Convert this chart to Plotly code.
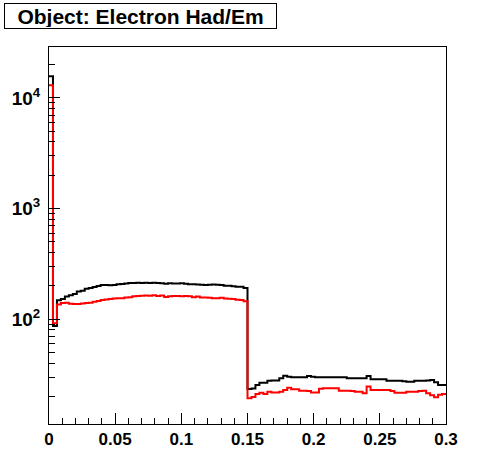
import numpy as np
import plotly.graph_objects as go

# ---- data (100 bins of width 0.003 from 0 to 0.3) ----
x_min = 0.0
x_max = 0.3
n_bins = 100

black_counts = [
    15700, 87, 148, 152, 160, 165, 169, 178, 181, 188,
    191, 195, 200, 204, 204, 203, 204, 207, 208, 210,
    212, 212, 213, 212, 213, 212, 213, 212, 211, 209,
    211, 210, 210, 211, 209, 207, 207, 206, 205, 204,
    205, 206, 205, 204, 201, 201, 199, 197, 197, 191,
    23.4, 23.6, 25.4, 26.7, 26.7, 27.8, 28.0, 28.0, 29.2, 30.9,
    30.2, 29.9, 29.9, 29.9, 29.9, 30.7, 30.2, 29.9, 29.9, 29.9,
    29.9, 29.9, 29.9, 29.9, 29.9, 29.2, 29.2, 29.2, 29.2, 29.2,
    30.7, 28.7, 28.7, 28.7, 28.7, 27.8, 27.8, 27.8, 27.8, 27.5,
    27.2, 27.2, 27.8, 27.8, 27.8, 28.0, 28.2, 27.0, 25.4, 25.4,
]

red_counts = [
    13000, 92, 136, 140, 141, 138, 137, 137, 139, 140,
    141, 144, 146, 149, 151, 152, 154, 155, 155, 157,
    158, 161, 162, 163, 164, 163, 165, 162, 164, 159,
    161, 162, 162, 161, 162, 161, 158, 160, 157, 157,
    156, 155, 155, 156, 154, 153, 152, 150, 149, 145,
    19.3, 19.8, 21.1, 21.6, 21.1, 22.1, 21.8, 21.8, 22.1, 22.9,
    24.0, 23.3, 23.3, 22.6, 22.6, 22.4, 21.8, 21.8, 23.5, 23.8,
    23.8, 23.8, 23.8, 22.6, 22.6, 22.6, 22.4, 22.1, 22.1, 21.4,
    24.6, 22.9, 22.9, 22.9, 22.9, 22.9, 22.4, 21.7, 21.7, 21.7,
    22.1, 22.1, 22.1, 22.4, 22.6, 21.4, 20.5, 19.7, 20.8, 21.1,
]

x_tick_vals = [0, 0.05, 0.1, 0.15, 0.2, 0.25, 0.3]
x_tick_text = ["0", "0.05", "0.1", "0.15", "0.2", "0.25", "0.3"]
y_tick_vals = [100, 1000, 10000]
y_tick_text = ["10<sup>2</sup>", "10<sup>3</sup>", "10<sup>4</sup>"]
y_minor_vals = [m * 10 ** d for d in range(1, 5) for m in range(2, 10) if m * 10 ** d < 29000]

title_text = "Object: Electron Had/Em"

# ---- figure ----
edges = np.linspace(x_min, x_max, n_bins + 1)


def step_xy(counts):
    xs = list(edges)
    ys = list(counts) + [counts[-1]]
    return xs, ys


fig = go.Figure()
bx, by = step_xy(black_counts)
fig.add_trace(go.Scatter(x=bx, y=by, mode="lines", line=dict(shape="hv", color="black", width=2),
                         showlegend=False, hoverinfo="skip"))
rx, ry = step_xy(red_counts)
fig.add_trace(go.Scatter(x=rx, y=ry, mode="lines", line=dict(shape="hv", color="#ff0000", width=2),
                         showlegend=False, hoverinfo="skip"))

font_family = "Liberation Sans, Arial, Helvetica, sans-serif"

fig.update_layout(
    width=496, height=472,
    margin=dict(l=49, r=50, t=47, b=48, pad=0),
    paper_bgcolor="white", plot_bgcolor="white",
    font=dict(family=font_family, color="black"),
    showlegend=False,
)

fig.update_xaxes(
    range=[x_min, x_max], showgrid=False, zeroline=False,
    showline=True, linecolor="black", linewidth=1, mirror=True,
    ticks="inside", ticklen=11, tickwidth=1, tickcolor="black",
    tickvals=x_tick_vals, ticktext=x_tick_text,
    tickfont=dict(size=17, family=font_family, weight="bold", color="black"),
    minor=dict(ticks="inside", ticklen=6, tickwidth=1, tickcolor="black", dtick=0.01, tick0=0, showgrid=False),
)

fig.update_yaxes(
    type="log", range=[1.053, 4.46], showgrid=False, zeroline=False,
    showline=True, linecolor="black", linewidth=1, mirror=True,
    ticks="inside", ticklen=11, tickwidth=1, tickcolor="black",
    tickvals=y_tick_vals, ticktext=y_tick_text,
    tickfont=dict(size=19, family=font_family, weight="bold", color="black"),
    ticklabelstandoff=4,
    minor=dict(ticks="inside", ticklen=6, tickwidth=1, tickcolor="black", tickvals=y_minor_vals, showgrid=False),
)

fig.add_annotation(
    text="<b>" + title_text + "</b>",
    xref="paper", yref="paper",
    x=-45 / 397, y=(424 - 2.7) / 377,
    xanchor="left", yanchor="top",
    showarrow=False,
    font=dict(size=21, family=font_family, color="black"),
    bordercolor="black", borderwidth=1, borderpad=1,
    bgcolor="white",
    width=269, height=22, align="center", valign="middle",
)

fig.write_html(
    "out.html",
    config={"displayModeBar": False, "staticPlot": True},
    post_script="document.body.style.margin='0';document.body.style.overflow='hidden';",
)
